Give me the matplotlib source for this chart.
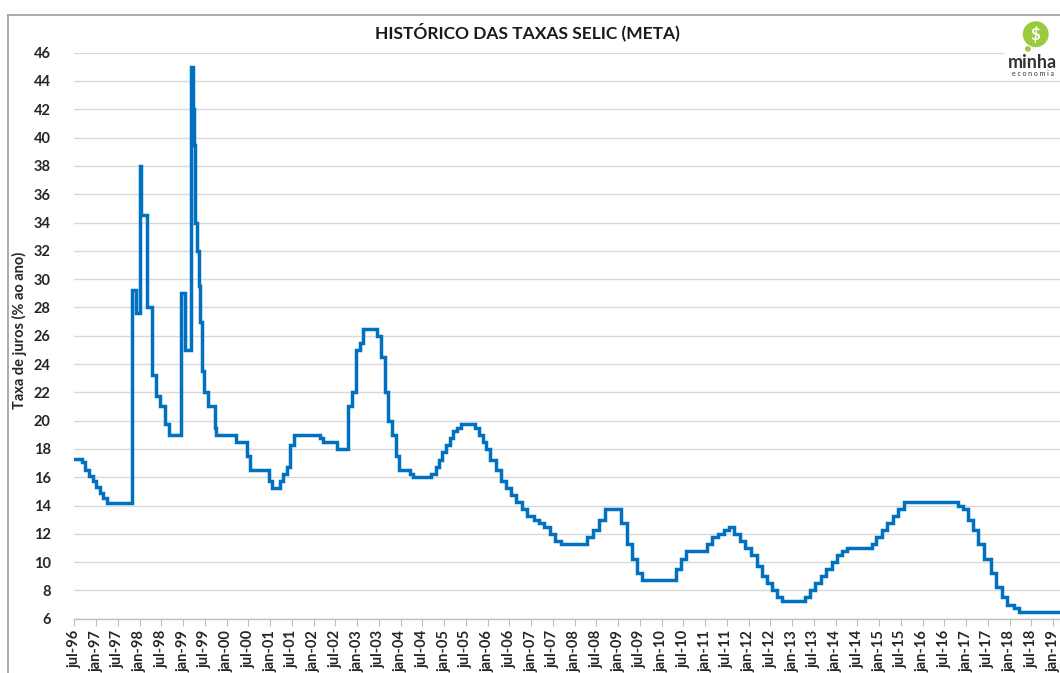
import matplotlib
matplotlib.use("Agg")
import matplotlib.pyplot as plt
from matplotlib.patches import Rectangle, Circle
from matplotlib.lines import Line2D
import datetime as dt

# ---------------- data ----------------
change_dates = [
    "1996-07-01", "1996-09-01", "1996-10-01", "1996-11-01", "1996-12-01",
    "1997-01-01", "1997-02-01", "1997-03-01", "1997-04-01",
    "1997-10-31", "1997-11-29", "1998-01-01", "1998-01-09", "1998-03-04",
    "1998-04-15", "1998-05-20", "1998-06-24", "1998-07-29", "1998-09-02",
    "1998-12-17", "1999-01-20", "1999-03-04", "1999-03-24", "1999-04-05",
    "1999-04-14", "1999-04-28", "1999-05-12", "1999-05-19", "1999-06-08",
    "1999-06-23", "1999-07-28", "1999-09-22", "1999-10-06",
    "2000-03-22", "2000-06-20", "2000-07-19", "2000-12-20",
    "2001-01-17", "2001-03-21", "2001-04-18", "2001-05-23", "2001-06-20", "2001-07-18",
    "2002-02-20", "2002-03-20", "2002-07-17", "2002-10-14", "2002-11-20", "2002-12-18",
    "2003-01-22", "2003-02-19", "2003-06-18", "2003-07-23", "2003-08-20", "2003-09-17",
    "2003-10-22", "2003-11-19", "2003-12-17",
    "2004-03-17", "2004-04-14", "2004-09-15", "2004-10-20", "2004-11-17", "2004-12-15",
    "2005-01-19", "2005-02-16", "2005-03-16", "2005-04-20", "2005-05-18", "2005-09-14",
    "2005-10-19", "2005-11-23", "2005-12-14",
    "2006-01-18", "2006-03-08", "2006-04-19", "2006-05-31", "2006-07-19", "2006-08-30",
    "2006-10-18", "2006-11-29",
    "2007-01-24", "2007-03-07", "2007-04-18", "2007-06-06", "2007-07-18", "2007-09-05",
    "2008-04-16", "2008-06-04", "2008-07-23", "2008-09-10",
    "2009-01-21", "2009-03-11", "2009-04-29", "2009-06-10", "2009-07-22",
    "2010-04-28", "2010-06-09", "2010-07-21",
    "2011-01-19", "2011-03-02", "2011-04-20", "2011-06-08", "2011-07-20", "2011-08-31",
    "2011-10-19", "2011-11-30",
    "2012-01-18", "2012-03-07", "2012-04-18", "2012-05-30", "2012-07-11", "2012-08-29",
    "2012-10-10",
    "2013-04-17", "2013-05-29", "2013-07-10", "2013-08-28", "2013-10-09", "2013-11-27",
    "2014-01-15", "2014-02-26", "2014-04-02", "2014-10-29", "2014-12-03",
    "2015-01-21", "2015-03-04", "2015-04-29", "2015-06-03", "2015-07-29",
    "2016-10-19", "2016-11-30",
    "2017-01-11", "2017-02-22", "2017-04-12", "2017-05-31", "2017-07-26", "2017-09-06",
    "2017-10-25", "2017-12-06",
    "2018-02-07", "2018-03-21", "2019-02-10",
]
selic_meta = [
    17.3, 17.1, 16.5, 16.1, 15.7,
    15.3, 14.9, 14.5, 14.15,
    29.2, 27.6, 38.0, 34.5, 28.0,
    23.25, 21.75, 21.0, 19.75, 19.0,
    29.0, 25.0, 45.0, 42.0, 39.5,
    34.0, 32.0, 29.5, 27.0, 23.5,
    22.0, 21.0, 19.5, 19.0,
    18.5, 17.5, 16.5, 15.75,
    15.25, 15.75, 16.25, 16.75, 18.25, 19.0,
    18.75, 18.5, 18.0, 21.0, 22.0, 25.0,
    25.5, 26.5, 26.0, 24.5, 22.0, 20.0,
    19.0, 17.5, 16.5,
    16.25, 16.0, 16.25, 16.75, 17.25, 17.75,
    18.25, 18.75, 19.25, 19.5, 19.75, 19.5,
    19.0, 18.5, 18.0,
    17.25, 16.5, 15.75, 15.25, 14.75, 14.25,
    13.75, 13.25,
    13.0, 12.75, 12.5, 12.0, 11.5, 11.25,
    11.75, 12.25, 13.0, 13.75,
    12.75, 11.25, 10.25, 9.25, 8.75,
    9.5, 10.25, 10.75,
    11.25, 11.75, 12.0, 12.25, 12.5, 12.0,
    11.5, 11.0,
    10.5, 9.75, 9.0, 8.5, 8.0, 7.5,
    7.25,
    7.5, 8.0, 8.5, 9.0, 9.5, 10.0,
    10.5, 10.75, 11.0, 11.25, 11.75,
    12.25, 12.75, 13.25, 13.75, 14.25,
    14.0, 13.75,
    13.0, 12.25, 11.25, 10.25, 9.25, 8.25,
    7.5, 7.0,
    6.75, 6.5, 6.5,
]
y_ticks = list(range(6, 47, 2))
title = "HISTÓRICO DAS TAXAS SELIC (META)"
y_label = "Taxa de juros (% ao ano)"
month_abbr = {1: "jan", 7: "jul"}

# ---------------- figure ----------------
W, H = 1060, 673
fig = plt.figure(figsize=(W / 100, H / 100), dpi=100)
fig.patch.set_facecolor("white")

fam = ["Lato", "DejaVu Sans"]
txt_col = "#262626"

x_left_px, x_right_px = 74.3, 1060.0
y_bot_px, y_top_px = 618.7, 52.7
ax = fig.add_axes([x_left_px / W, 1 - y_bot_px / H,
                   (x_right_px - x_left_px) / W, (y_bot_px - y_top_px) / H])

dates = [dt.datetime.strptime(d, "%Y-%m-%d") for d in change_dates]
ax.plot(dates, selic_meta, drawstyle="steps-post", color="#0070C0",
        linewidth=2.5, solid_joinstyle="miter", zorder=3)

ax.set_ylim(6, 46)
ax.set_yticks(y_ticks)
ax.set_yticklabels([str(v) for v in y_ticks], fontfamily=fam,
                   fontweight="bold", fontsize=10.5, color=txt_col)
ax.set_xlim(dt.datetime(1996, 7, 1), dt.datetime(2019, 2, 26))

xt = []
xl = []
for yr in range(1996, 2020):
    for m in (1, 7):
        d = dt.datetime(yr, m, 1)
        if dt.datetime(1996, 7, 1) <= d <= dt.datetime(2019, 1, 1):
            xt.append(d)
            xl.append(f"{month_abbr[m]}-{yr % 100:02d}")
ax.set_xticks(xt)
ax.set_xticklabels(xl, rotation=90, fontfamily=fam, fontweight="bold",
                   fontsize=10.5, color=txt_col)

ax.grid(axis="y", color="#D9D9D9", linewidth=1.0, zorder=0)
for s in ("top", "right", "left"):
    ax.spines[s].set_visible(False)
ax.spines["bottom"].set_color("#BFBFBF")
ax.spines["bottom"].set_linewidth(1.0)
ax.tick_params(axis="x", length=5, color="#BFBFBF", pad=3)
ax.tick_params(axis="y", length=0, pad=17)

fig.text(19 / W, 1 - 330 / H, y_label, rotation=90, ha="center", va="center",
         fontfamily=fam, fontweight="bold", fontsize=10.5, color=txt_col)
fig.text(527 / W, 1 - 32 / H, title, ha="center", va="center",
         fontfamily=fam, fontweight="bold", fontsize=12.5, color="#1a1a1a")

# outer frame of original chart (cropped)
fig.add_artist(Line2D([8 / W, 1], [1 - 15 / H, 1 - 15 / H], color="#9E9E9E",
                      linewidth=1.2, transform=fig.transFigure))
fig.add_artist(Line2D([8 / W, 8 / W], [0, 1 - 15 / H], color="#9E9E9E",
                      linewidth=1.2, transform=fig.transFigure))

# logo
fig.add_artist(Rectangle((1004 / W, 1 - 78 / H), 56 / W, 58 / H,
                         transform=fig.transFigure, facecolor="white",
                         edgecolor="none", zorder=5))
lax = fig.add_axes([1017 / W, 1 - 54 / H, 36 / W, 36 / H])
lax.set_zorder(10)
lax.patch.set_alpha(0)
lax.set_xlim(0, 1)
lax.set_ylim(0, 1)
lax.set_aspect("equal")
lax.axis("off")
lax.add_patch(Circle((0.52, 0.55), 0.36, facecolor="#9BCB3C", edgecolor="none"))
lax.add_patch(Circle((0.3, 0.14), 0.08, facecolor="#9BCB3C", edgecolor="none"))
lax.text(0.52, 0.55, "$", ha="center", va="center", color="white",
         fontweight="bold", fontsize=12, fontfamily=fam)
fig.text(1032 / W, 1 - 63 / H, "minha", ha="center", va="center",
         color="#333333", fontweight="bold", fontsize=13, fontfamily=fam, zorder=11)
fig.text(1033 / W, 1 - 73 / H, "e c o n o m i a", ha="center", va="center",
         color="#333333", fontsize=5, fontfamily=fam, zorder=11)

fig.savefig("out.png", dpi=100, facecolor="white")
